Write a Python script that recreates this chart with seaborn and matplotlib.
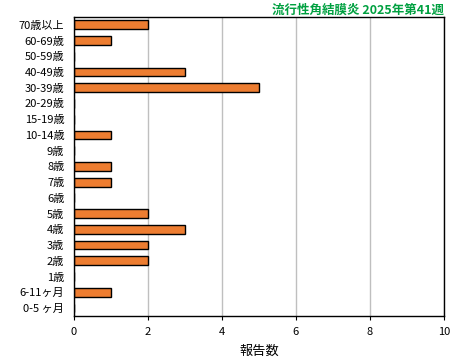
import pandas as pd
import matplotlib
matplotlib.use("Agg")
import matplotlib.pyplot as plt
import seaborn as sns

age_groups = ["70歳以上", "60-69歳", "50-59歳", "40-49歳", "30-39歳", "20-29歳",
              "15-19歳", "10-14歳", "9歳", "8歳", "7歳", "6歳", "5歳", "4歳",
              "3歳", "2歳", "1歳", "6-11ヶ月", "0-5 ヶ月"]
reports = [2, 1, 0, 3, 5, 0, 0, 1, 0, 1, 1, 0, 2, 3, 2, 2, 0, 1, 0]

title = "流行性角結膜炎 2025年第41週"

df = pd.DataFrame({"age": age_groups, "count": reports})

sns.set_style("white")
plt.rcParams["font.family"] = ["Noto Sans CJK JP", "DejaVu Sans"]
plt.rcParams["text.color"] = "black"
plt.rcParams["xtick.color"] = "black"
plt.rcParams["ytick.color"] = "black"
plt.rcParams["axes.labelcolor"] = "black"

fig = plt.figure(figsize=(4.6, 3.61), dpi=100)
ax = fig.add_axes([0.161, 0.125, 0.804, 0.828])

sns.barplot(data=df, x="count", y="age", orient="h", color="#ED7D31",
            edgecolor="black", linewidth=1.0, width=0.56, saturation=1, ax=ax)

ax.set_xlim(0, 10)
ax.set_xticks([0, 2, 4, 6, 8, 10])
ax.xaxis.grid(True, color="#BFBFBF", linewidth=1)
ax.set_axisbelow(True)
for s in ax.spines.values():
    s.set_color("black")
    s.set_linewidth(1)
ax.tick_params(axis="x", length=3, labelsize=8, bottom=True, pad=5)
ax.tick_params(axis="y", length=0, labelsize=8, pad=7)
ax.set_ylabel("")
ax.set_xlabel("報告数", fontsize=9.5, labelpad=6)

fig.text(0.965, 0.99, title, ha="right", va="top", color="#00A040",
         fontsize=9, fontweight="bold")

fig.savefig("out.png", dpi=100)
